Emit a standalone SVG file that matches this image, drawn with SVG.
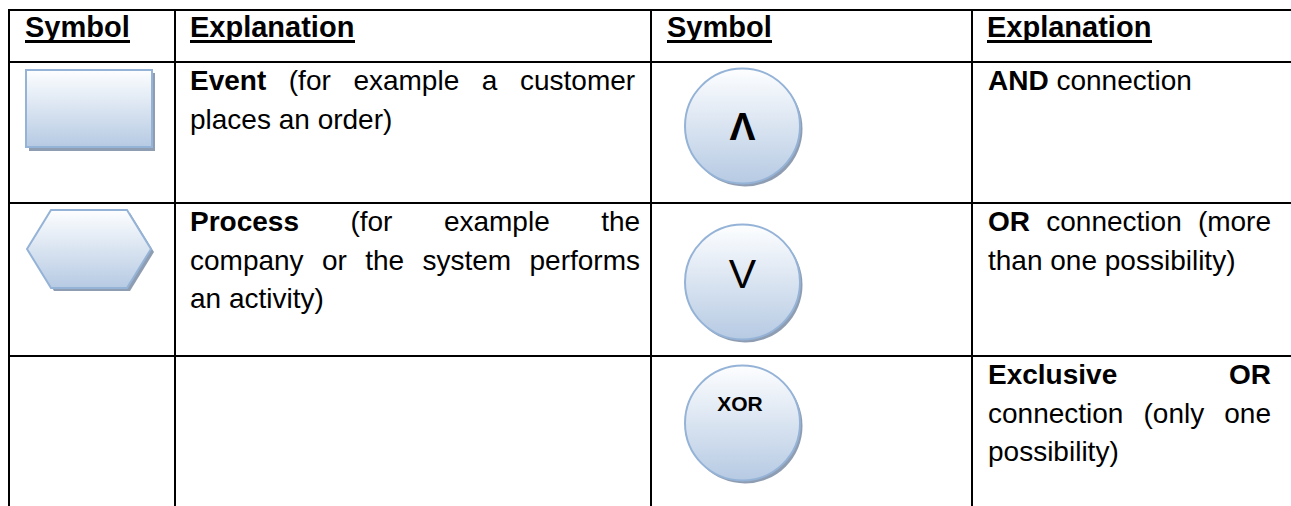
<svg xmlns="http://www.w3.org/2000/svg" width="1291" height="506" viewBox="0 0 1291 506">
  <defs>
    <linearGradient id="shapeFill" x1="0" y1="0" x2="0" y2="1">
      <stop offset="0" stop-color="#fdfeff"/>
      <stop offset="1" stop-color="#b6cae3"/>
    </linearGradient>
    <style>
      .rule { stroke: #000; stroke-width: 2; fill: none; }
      .shape { fill: url(#shapeFill); stroke: #95b3d7; stroke-width: 2; }
      .shadow { fill: #8f9db2; }
      .hdr { font-family: "Liberation Sans", Arial, sans-serif; font-size: 29px; font-weight: bold; fill: #000; }
      .uline { stroke: #000; stroke-width: 3; }
      .body { font-family: "Liberation Sans", Arial, sans-serif; font-size: 28px; fill: #000; }
      .b { font-weight: bold; }
      .sym { font-family: "Liberation Sans", Arial, sans-serif; fill: #000; text-anchor: middle; }
    </style>
  </defs>

  <rect width="1291" height="506" fill="#fff"/>

  <!-- table rules -->
  <g id="grid">
    <line class="rule" x1="8" y1="10" x2="1291" y2="10"/>
    <line class="rule" x1="8" y1="62" x2="1291" y2="62"/>
    <line class="rule" x1="8" y1="203" x2="1291" y2="203"/>
    <line class="rule" x1="8" y1="356" x2="1291" y2="356"/>
    <line class="rule" x1="9" y1="9" x2="9" y2="506"/>
    <line class="rule" x1="175" y1="9" x2="175" y2="506"/>
    <line class="rule" x1="651" y1="9" x2="651" y2="506"/>
    <line class="rule" x1="972" y1="9" x2="972" y2="506"/>
  </g>

  <!-- column headings -->
  <g id="headings">
    <text class="hdr" x="25" y="37">Symbol</text>
    <line class="uline" x1="25" y1="41.5" x2="130" y2="41.5"/>
    <text class="hdr" x="190" y="37">Explanation</text>
    <line class="uline" x1="190" y1="41.5" x2="355" y2="41.5"/>
    <text class="hdr" x="667" y="37">Symbol</text>
    <line class="uline" x1="667" y1="41.5" x2="772" y2="41.5"/>
    <text class="hdr" x="987" y="37">Explanation</text>
    <line class="uline" x1="987" y1="41.5" x2="1152" y2="41.5"/>
  </g>

  <!-- event symbol -->
  <g id="event-symbol">
    <rect class="shadow" x="29" y="73" width="126" height="78"/>
    <rect class="shape" x="26" y="70" width="126" height="77"/>
  </g>
  <g id="event-text" class="body">
    <text y="90"><tspan class="b" x="190">Event</tspan><tspan x="288.8">(for</tspan><tspan x="353.4">example</tspan><tspan x="481.8">a</tspan><tspan x="520">customer</tspan></text>
    <text x="190" y="128.5">places an order)</text>
  </g>

  <!-- process symbol -->
  <g id="process-symbol">
    <polygon class="shadow" points="30,252 54,213 130,213 154,252 130,291 54,291"/>
    <polygon class="shape" points="27,249 51,210 127,210 151,249 127,288 51,288"/>
  </g>
  <g id="process-text" class="body">
    <text y="231"><tspan class="b" x="190">Process</tspan><tspan x="350.4">(for</tspan><tspan x="443.9">example</tspan><tspan x="601.2">the</tspan></text>
    <text y="269.5"><tspan x="190">company</tspan><tspan x="322">or</tspan><tspan x="365.2">the</tspan><tspan x="422.5">system</tspan><tspan x="529.5">performs</tspan></text>
    <text x="190" y="308">an activity)</text>
  </g>

  <!-- AND connector -->
  <g id="and-symbol">
    <circle class="shadow" cx="745" cy="129" r="57.5"/>
    <circle class="shape" cx="742.5" cy="126" r="57.5"/>
    <text class="sym" x="742.5" y="140" font-size="39" font-weight="bold">Λ</text>
  </g>
  <g id="and-text" class="body">
    <text x="988" y="90"><tspan class="b">AND</tspan> connection</text>
  </g>

  <!-- OR connector -->
  <g id="or-symbol">
    <circle class="shadow" cx="745" cy="285" r="57.5"/>
    <circle class="shape" cx="742.5" cy="282" r="57.5"/>
    <text class="sym" x="742.5" y="288" font-size="41">V</text>
  </g>
  <g id="or-text" class="body">
    <text y="231"><tspan class="b" x="988">OR</tspan><tspan x="1046.3">connection</tspan><tspan x="1197.9">(more</tspan></text>
    <text x="988" y="269.5">than one possibility)</text>
  </g>

  <!-- XOR connector -->
  <g id="xor-symbol">
    <circle class="shadow" cx="745" cy="426" r="57.5"/>
    <circle class="shape" cx="742.5" cy="423" r="57.5"/>
    <text class="sym" x="740" y="411" font-size="21" font-weight="bold">XOR</text>
  </g>
  <g id="xor-text" class="body">
    <text y="384"><tspan class="b" x="988">Exclusive</tspan><tspan class="b" x="1229">OR</tspan></text>
    <text y="422.5"><tspan x="988">connection</tspan><tspan x="1143.5">(only</tspan><tspan x="1224.3">one</tspan></text>
    <text x="988" y="461">possibility)</text>
  </g>
</svg>
